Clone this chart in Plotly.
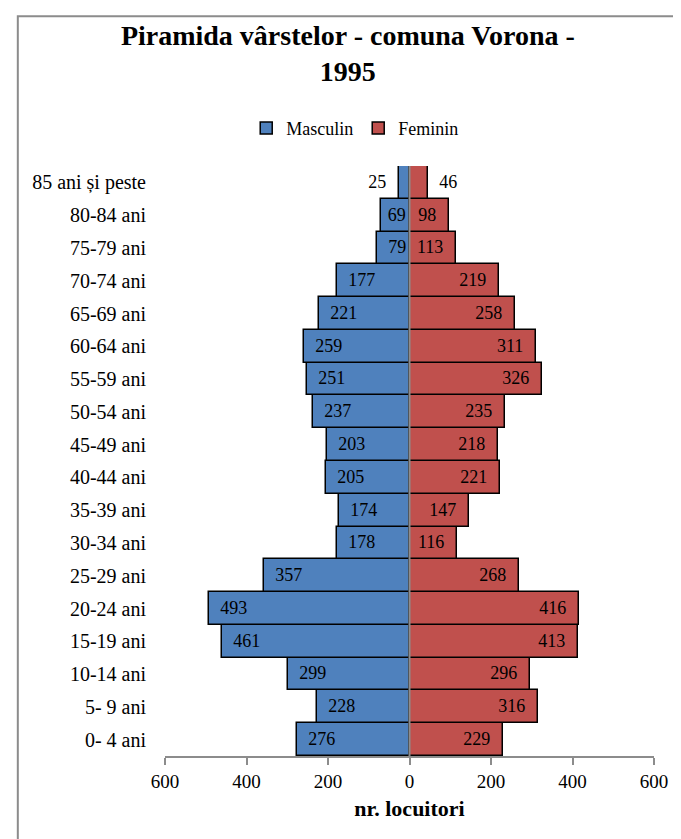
import plotly.graph_objects as go

# grupe de varsta, de jos in sus
grupe = ['0- 4 ani', '5- 9 ani', '10-14 ani', '15-19 ani', '20-24 ani', '25-29 ani',
         '30-34 ani', '35-39 ani', '40-44 ani', '45-49 ani', '50-54 ani', '55-59 ani',
         '60-64 ani', '65-69 ani', '70-74 ani', '75-79 ani', '80-84 ani', '85 ani și peste']
masculin = [276, 228, 299, 461, 493, 357, 178, 174, 205, 203, 237, 251, 259, 221, 177, 79, 69, 25]
feminin = [229, 316, 296, 413, 416, 268, 116, 147, 221, 218, 235, 326, 311, 258, 219, 113, 98, 46]

tick_vals = [-600, -400, -200, 0, 200, 400, 600]
tick_text = ['600', '400', '200', '0', '200', '400', '600']

FONT = 'Liberation Serif'
pozitii = ['inside'] * (len(grupe) - 1) + ['outside']

# spatii ca sa departez etichetele de capatul barei, ca in Excel
text_m = ['  ' + str(v) if v > 75 else ' ' + str(v) for v in masculin[:-1]] + [str(masculin[-1]) + '  ']
text_f = [str(v) + '  ' for v in feminin[:-1]] + ['  ' + str(feminin[-1])]

fig = go.Figure()
fig.add_trace(go.Bar(
    y=grupe, x=[-v for v in masculin], orientation='h', name='Masculin',
    marker=dict(color='#4F81BD', line=dict(color='black', width=1.5)),
    text=text_m, textposition=pozitii, insidetextanchor='end', textangle=0,
    constraintext='none', textfont=dict(family=FONT, size=18, color='black'),
    cliponaxis=False
))
fig.add_trace(go.Bar(
    y=grupe, x=feminin, orientation='h', name='Feminin',
    marker=dict(color='#C0504D', line=dict(color='black', width=1.5)),
    text=text_f, textposition=pozitii, insidetextanchor='end', textangle=0,
    constraintext='none', textfont=dict(family=FONT, size=18, color='black'),
    cliponaxis=False
))

# pagina are 8px margine in browser, deci figura e putin mai mica
fig.update_layout(
    width=673, height=831,
    barmode='overlay', bargap=0,
    plot_bgcolor='white', paper_bgcolor='white',
    font=dict(family=FONT, size=18, color='black'),
    margin=dict(l=157, r=27, t=158, b=83),
    title=dict(text='<b>Piramida vârstelor - comuna Vorona -<br>1995</b>',
               x=0.505, xanchor='center', y=0.956, yanchor='top',
               font=dict(family=FONT, size=28, color='black')),
    legend=dict(orientation='h', x=0.389, xanchor='center', y=1.064, yanchor='middle',
                font=dict(family=FONT, size=18), traceorder='normal'),
    showlegend=True,
    xaxis=dict(range=[-600, 600], tickvals=tick_vals, ticktext=tick_text,
               showgrid=False, zeroline=False, showline=True, linecolor='#8c8c8c', linewidth=2,
               ticks='outside', ticklen=7, tickcolor='#8c8c8c', tickwidth=2,
               tickfont=dict(family=FONT, size=19),
               title=dict(text='<b>nr. locuitori</b>', font=dict(family=FONT, size=22), standoff=10)),
    yaxis=dict(showgrid=False, zeroline=False, showline=False, ticks='',
               ticklabelstandoff=18, tickfont=dict(family=FONT, size=20)),
    shapes=[
        dict(type='line', xref='x', yref='paper', x0=0, x1=0, y0=0, y1=1,
             line=dict(color='#8c8c8c', width=2), layer='above'),
        dict(type='rect', xref='paper', yref='paper', x0=-0.301, x1=1.2, y0=-0.3, y1=1.254,
             line=dict(color='#8c8c8c', width=2), layer='below'),
    ],
)

fig.write_html("out.html")
